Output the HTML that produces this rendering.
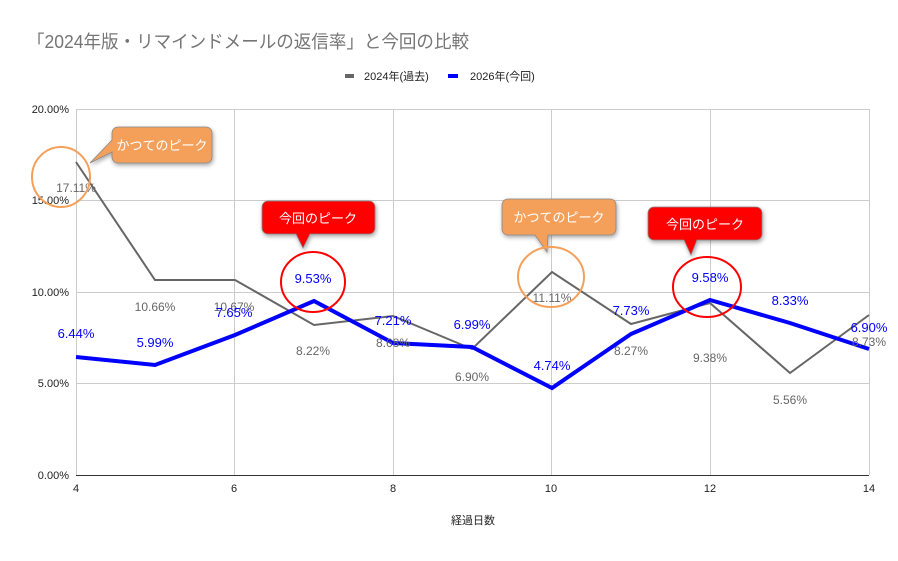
<!DOCTYPE html>
<html><head><meta charset="utf-8"><style>
body{margin:0;background:#fff}
text{font-family:"Liberation Sans","Noto Sans CJK JP",sans-serif}
</style></head><body>
<svg width="898" height="556" xmlns="http://www.w3.org/2000/svg">
<defs><filter id="sh" x="-20%" y="-20%" width="150%" height="160%"><feDropShadow dx="1" dy="2" stdDeviation="2" flood-opacity="0.35"/></filter></defs>
<text x="27" y="48" font-size="18" fill="#757575" textLength="442" lengthAdjust="spacingAndGlyphs">「2024年版・リマインドメールの返信率」と今回の比較</text>
<rect x="345" y="74" width="9" height="4" fill="#666"/>
<text x="364" y="80" font-size="11" fill="#222">2024年(過去)</text>
<rect x="448" y="74" width="10" height="4" fill="#0000ff"/>
<text x="470" y="80" font-size="11" fill="#222">2026年(今回)</text>
<g stroke="#ccc" stroke-width="1">
<line x1="76" y1="109.5" x2="869" y2="109.5"/><line x1="76" y1="200.5" x2="869" y2="200.5"/><line x1="76" y1="292.5" x2="869" y2="292.5"/><line x1="76" y1="383.5" x2="869" y2="383.5"/>
<line x1="76.5" y1="109" x2="76.5" y2="475"/><line x1="234.5" y1="109" x2="234.5" y2="475"/><line x1="393.5" y1="109" x2="393.5" y2="475"/><line x1="551.5" y1="109" x2="551.5" y2="475"/><line x1="710.5" y1="109" x2="710.5" y2="475"/><line x1="869.5" y1="109" x2="869.5" y2="475"/>
</g>
<line x1="76" y1="475.5" x2="869" y2="475.5" stroke="#333"/>
<g font-size="11" fill="#222" text-anchor="end">
<text x="69" y="113">20.00%</text><text x="69" y="204">15.00%</text><text x="69" y="296">10.00%</text><text x="69" y="387">5.00%</text><text x="69" y="479">0.00%</text>
</g>
<g font-size="11" fill="#222" text-anchor="middle">
<text x="76" y="492">4</text><text x="234" y="492">6</text><text x="393" y="492">8</text><text x="551" y="492">10</text><text x="710" y="492">12</text><text x="869" y="492">14</text>
<text x="473" y="524">経過日数</text>
</g>
<polyline fill="none" stroke="#666" stroke-width="2" points="76,162 155,280 235,280 314,325 393,316 472,349 552,272 631,324 710,303 790,373 869,315"/>
<polyline fill="none" stroke="#0000ff" stroke-width="4" points="76,357 155,365 235,335 314,301 393,343 472,347 552,388 631,334 710,300 790,323 869,349"/>
<g font-size="12" fill="#666" text-anchor="middle">
<text x="76" y="192">17.11%</text><text x="155" y="311">10.66%</text><text x="234" y="311">10.67%</text><text x="313" y="355">8.22%</text><text x="393" y="347">8.68%</text><text x="472" y="381">6.90%</text><text x="552" y="302">11.11%</text><text x="631" y="355">8.27%</text><text x="710" y="362">9.38%</text><text x="790" y="404">5.56%</text><text x="869" y="346">8.73%</text>
</g>
<g font-size="13" fill="#0000ff" text-anchor="middle">
<text x="76" y="338">6.44%</text><text x="155" y="347">5.99%</text><text x="234" y="317">7.65%</text><text x="313" y="283">9.53%</text><text x="393" y="325">7.21%</text><text x="472" y="329">6.99%</text><text x="552" y="370">4.74%</text><text x="631" y="315">7.73%</text><text x="710" y="282">9.58%</text><text x="790" y="305">8.33%</text><text x="869" y="332">6.90%</text>
</g>
<g filter="url(#sh)">
<path d="M118,127 H206 a6,6 0 0 1 6,6 V157 a6,6 0 0 1 -6,6 H118 a6,6 0 0 1 -6,-6 V152 L90,163 L112,140 V133 a6,6 0 0 1 6,-6Z" fill="#f4a05a" stroke="#888" stroke-width="0.8"/>
<path d="M508,199 H610 a6,6 0 0 1 6,6 V229 a6,6 0 0 1 -6,6 H548 L547,252 L535,235 H508 a6,6 0 0 1 -6,-6 V205 a6,6 0 0 1 6,-6Z" fill="#f4a05a" stroke="#888" stroke-width="0.8"/>
<path d="M268,201 H369 a6,6 0 0 1 6,6 V228 a6,6 0 0 1 -6,6 H310 L303,248 L296,234 H268 a6,6 0 0 1 -6,-6 V207 a6,6 0 0 1 6,-6Z" fill="#ff0000" stroke="#888" stroke-width="0.8"/>
<path d="M654,207 H756 a6,6 0 0 1 6,6 V234 a6,6 0 0 1 -6,6 H697 L691,255 L684,240 H654 a6,6 0 0 1 -6,-6 V213 a6,6 0 0 1 6,-6Z" fill="#ff0000" stroke="#888" stroke-width="0.8"/>
</g>
<g font-size="13" fill="#fff" text-anchor="middle">
<text x="162" y="150">かつてのピーク</text><text x="559" y="222">かつてのピーク</text><text x="318" y="223">今回のピーク</text><text x="705" y="229">今回のピーク</text>
</g>
<g fill="none" stroke-width="2">
<ellipse cx="61" cy="177" rx="29" ry="30" stroke="#f4a05a"/>
<ellipse cx="551" cy="277" rx="33" ry="30" stroke="#f4a05a"/>
<ellipse cx="313" cy="282" rx="32" ry="30" stroke="#ff0000"/>
<ellipse cx="707" cy="287" rx="34" ry="30" stroke="#ff0000"/>
</g>
</svg>
</body></html>
